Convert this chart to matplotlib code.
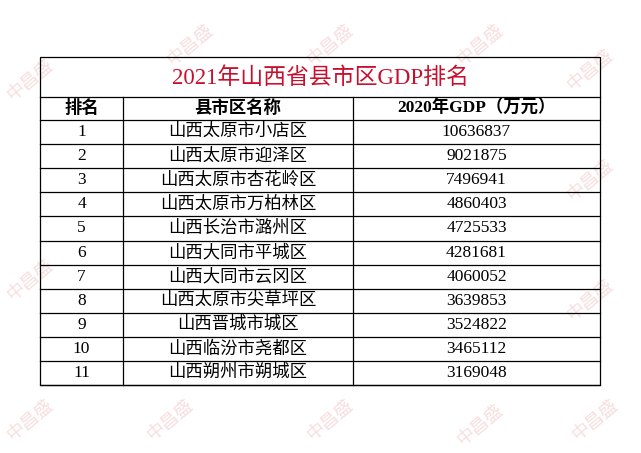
import matplotlib.pyplot as plt
from matplotlib.patches import Rectangle

plt.rcParams['font.family'] = ['Liberation Serif', 'Noto Sans CJK SC']

title = "2021年山西省县市区GDP排名"
headers = ["排名", "县市区名称", "2020年GDP（万元）"]
ranks = [1, 2, 3, 4, 5, 6, 7, 8, 9, 10, 11]
names = ["山西太原市小店区", "山西太原市迎泽区", "山西太原市杏花岭区", "山西太原市万柏林区",
         "山西长治市潞州区", "山西大同市平城区", "山西大同市云冈区", "山西太原市尖草坪区",
         "山西晋城市城区", "山西临汾市尧都区", "山西朔州市朔城区"]
gdp = [10636837, 9021875, 7496941, 4860403, 4725533, 4281681, 4060052,
       3639853, 3524822, 3465112, 3169048]

W, H = 641, 453
fig = plt.figure(figsize=(W / 100, H / 100), dpi=100)
ax = fig.add_axes([0, 0, 1, 1])
ax.set_xlim(0, W)
ax.set_ylim(H, 0)
ax.axis('off')

# faint watermarks
for wx, wy in [(30, 80), (190, 45), (330, 45), (480, 45), (590, 70), (30, 280), (590, 180),
               (590, 300), (30, 420), (170, 420), (330, 420), (480, 425), (595, 420)]:
    ax.text(wx, wy, "中昌盛", color='#f8dede', fontsize=13, rotation=40,
            ha='center', va='center', zorder=0)

x0, x1, x2, x3 = 40, 123, 353, 600
top, title_bot, head_bot = 57, 97, 120
row_h = 24.1
bottom = head_bot + row_h * len(ranks)

lw = 0.9
ax.add_patch(Rectangle((x0, top), x3 - x0, bottom - top, fill=False, lw=lw, ec='black'))
ax.plot([x0, x3], [title_bot, title_bot], color='black', lw=lw)
for i in range(len(ranks) + 1):
    y = head_bot + i * row_h
    ax.plot([x0, x3], [y, y], color='black', lw=lw)
for x in (x1, x2):
    ax.plot([x, x], [title_bot, bottom], color='black', lw=lw)

ax.text((x0 + x3) / 2, (top + title_bot) / 2 + 1, title, color='#c8102e', fontsize=16.5,
        ha='center', va='center')
cx = [(x0 + x1) / 2, (x1 + x2) / 2, (x2 + x3) / 2]
for c, h in zip(cx, headers):
    ax.text(c, (title_bot + head_bot) / 2, h, fontsize=12.5, fontweight='bold',
            ha='center', va='center')
for i, (r, n, g) in enumerate(zip(ranks, names, gdp)):
    y = head_bot + (i + 0.5) * row_h
    ax.text(cx[0], y, str(r), fontsize=12.5, ha='center', va='center')
    ax.text(cx[1], y, n, fontsize=12.5, ha='center', va='center')
    ax.text(cx[2], y, str(g), fontsize=12.5, ha='center', va='center')

fig.savefig('out.png', dpi=100)
